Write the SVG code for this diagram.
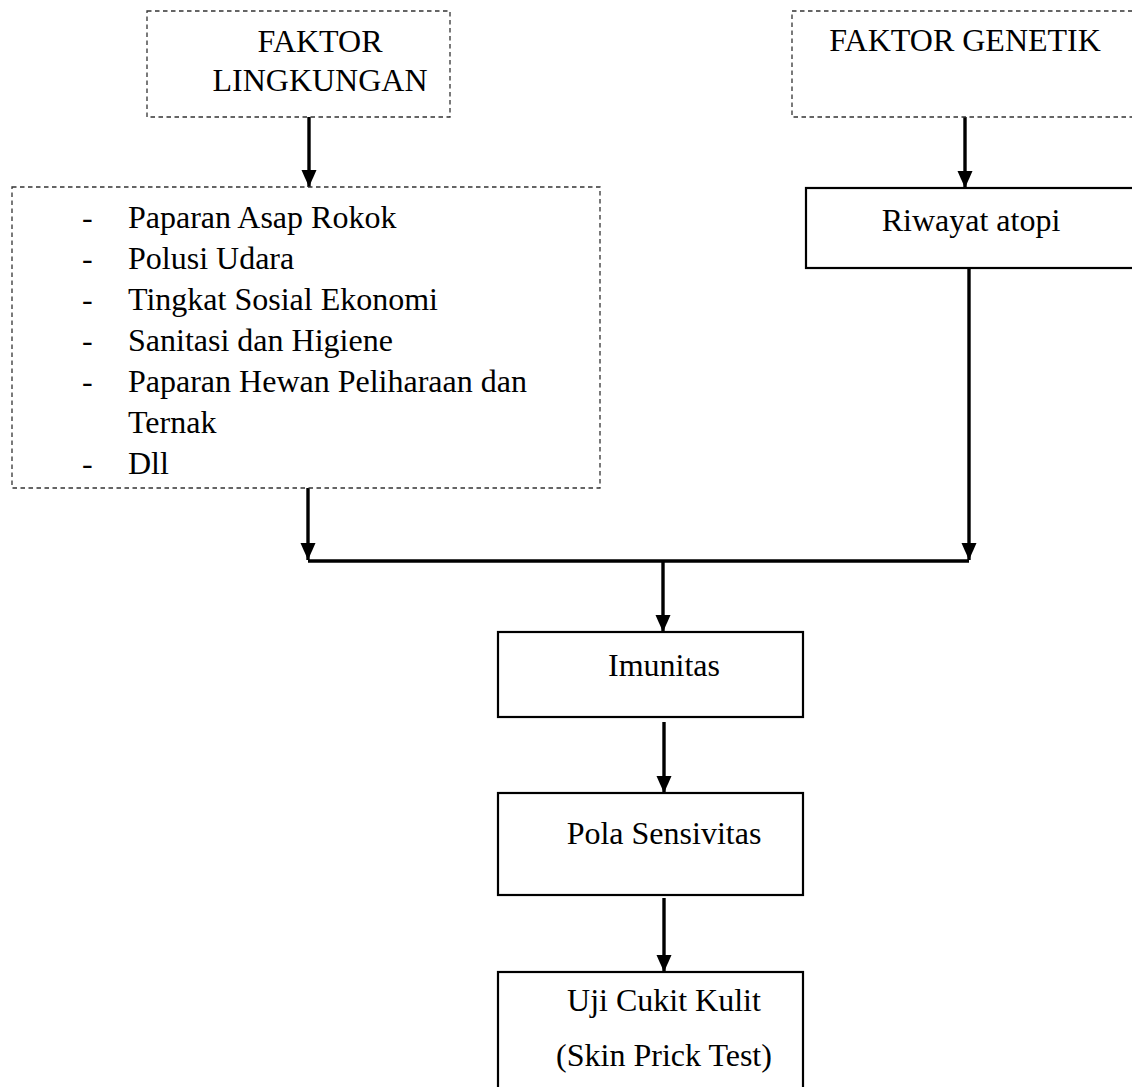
<svg xmlns="http://www.w3.org/2000/svg" width="1132" height="1087" viewBox="0 0 1132 1087">
<style>
.dash{fill:#fff;stroke:#333;stroke-width:1.3;stroke-dasharray:4.5 3.5}
.box{fill:#fff;stroke:#000;stroke-width:2.2}
.t{font-family:"Liberation Serif","Times New Roman",serif;font-size:32px;fill:#000}
.c{text-anchor:middle}
.ln{stroke:#000;stroke-width:3.4;fill:none}
</style>
<defs>
<marker id="ah" markerUnits="userSpaceOnUse" markerWidth="18" markerHeight="18" viewBox="0 0 18 18" refX="17" refY="9" orient="auto">
<path d="M0,1.5 L17,9 L0,16.5 Z" fill="#000"/>
</marker>
</defs>
<rect width="1132" height="1087" fill="#fff"/>
<g id="connectors">
<line class="ln" x1="309" y1="117" x2="309" y2="187" marker-end="url(#ah)"/>
<line class="ln" x1="965" y1="117" x2="965" y2="188" marker-end="url(#ah)"/>
<line class="ln" x1="308" y1="488" x2="308" y2="560" marker-end="url(#ah)"/>
<line class="ln" x1="969" y1="268" x2="969" y2="560" marker-end="url(#ah)"/>
<line class="ln" x1="308" y1="561" x2="969" y2="561"/>
<line class="ln" x1="663" y1="561" x2="663" y2="632" marker-end="url(#ah)"/>
<line class="ln" x1="664" y1="722" x2="664" y2="793" marker-end="url(#ah)"/>
<line class="ln" x1="664" y1="898" x2="664" y2="972" marker-end="url(#ah)"/>
</g>
<g id="faktor-lingkungan">
<rect class="dash" x="147" y="11" width="303" height="106"/>
<text class="t c" x="320" y="52">FAKTOR</text>
<text class="t c" x="320" y="91">LINGKUNGAN</text>
</g>
<g id="faktor-genetik">
<rect class="dash" x="792" y="11" width="350" height="106"/>
<text class="t c" x="965" y="51">FAKTOR GENETIK</text>
</g>
<g id="lingkungan-list">
<rect class="dash" x="12" y="187" width="588" height="301"/>
<text class="t" x="82" y="228">-</text><text class="t" x="128" y="228">Paparan Asap Rokok</text>
<text class="t" x="82" y="269">-</text><text class="t" x="128" y="269">Polusi Udara</text>
<text class="t" x="82" y="310">-</text><text class="t" x="128" y="310">Tingkat Sosial Ekonomi</text>
<text class="t" x="82" y="351">-</text><text class="t" x="128" y="351">Sanitasi dan Higiene</text>
<text class="t" x="82" y="392">-</text><text class="t" x="128" y="392">Paparan Hewan Peliharaan dan</text>
<text class="t" x="128" y="433">Ternak</text>
<text class="t" x="82" y="474">-</text><text class="t" x="128" y="474">Dll</text>
</g>
<g id="riwayat-atopi">
<rect class="box" x="806" y="188" width="340" height="80"/>
<text class="t c" x="971" y="231">Riwayat atopi</text>
</g>
<g id="imunitas">
<rect class="box" x="498" y="632" width="305" height="85"/>
<text class="t c" x="664" y="676">Imunitas</text>
</g>
<g id="pola-sensivitas">
<rect class="box" x="498" y="793" width="305" height="102"/>
<text class="t c" x="664" y="844">Pola Sensivitas</text>
</g>
<g id="uji-cukit-kulit">
<rect class="box" x="498" y="972" width="305" height="130"/>
<text class="t c" x="664" y="1011">Uji Cukit Kulit</text>
<text class="t c" x="664" y="1066">(Skin Prick Test)</text>
</g>
</svg>
